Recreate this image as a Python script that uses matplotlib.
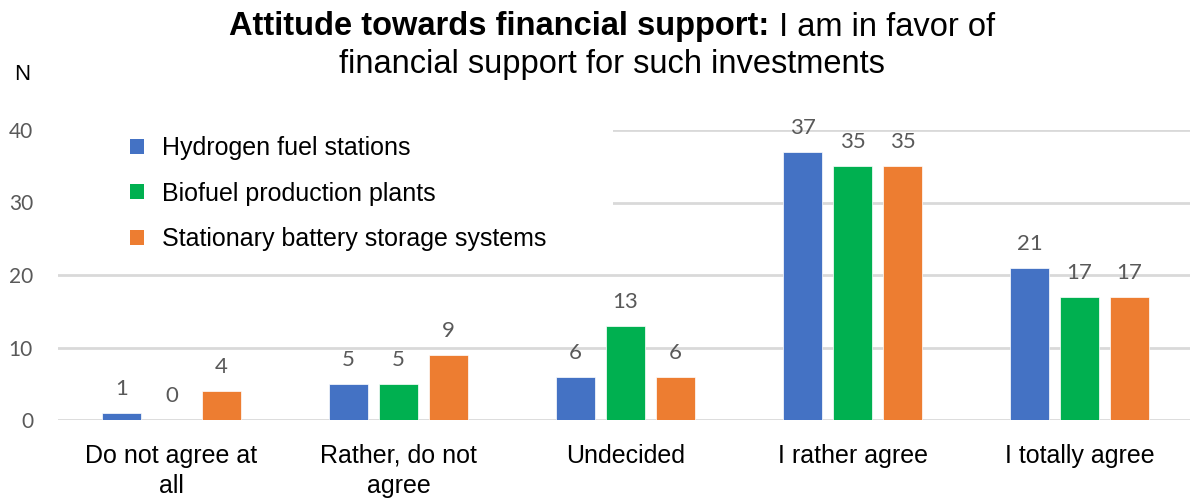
import matplotlib
matplotlib.use("Agg")
import matplotlib.pyplot as plt
import numpy as np
from matplotlib.patches import Patch, Rectangle

categories = ["Do not agree at\nall", "Rather, do not\nagree", "Undecided",
              "I rather agree", "I totally agree"]
series_names = ["Hydrogen fuel stations", "Biofuel production plants",
                "Stationary battery storage systems"]
hydrogen = [1, 5, 6, 37, 21]
biofuel = [0, 5, 13, 35, 17]
battery = [4, 9, 6, 35, 17]
colors = ["#4472C4", "#00B050", "#ED7D31"]

W, H = 1190, 499
fig = plt.figure(figsize=(W / 100, H / 100), dpi=100)
ax = fig.add_axes([58 / W, (H - 420) / H, (1193 - 58) / W, 290 / H])

x = np.arange(len(categories))
width = 0.172
pitch = 0.22
for i, (vals, col) in enumerate(zip([hydrogen, biofuel, battery], colors)):
    bars = ax.bar(x + (i - 1) * pitch, vals, width, color=col, zorder=3,
                  edgecolor="white", linewidth=0.5)
    for b, v in zip(bars, vals):
        ax.annotate(str(v), (b.get_x() + b.get_width() / 2, v),
                    xytext=(0, 10), textcoords="offset points",
                    ha="center", va="bottom", fontsize=16, color="#595959",
                    family="Lato")

ax.set_xlim(-0.5, 4.5)
ax.set_ylim(0, 40)
ax.set_yticks([0, 10, 20, 30, 40])
ax.yaxis.grid(True, color="#D9D9D9", linewidth=2, zorder=0)
ax.set_axisbelow(True)
for s in ax.spines.values():
    s.set_visible(False)
ax.tick_params(axis="both", length=0)
ax.tick_params(axis="y", labelsize=15, labelcolor="#595959", pad=18)
for lab in ax.get_yticklabels():
    lab.set_family("Lato")
ax.set_xticks(x)
ax.set_xticklabels(categories, fontsize=18, family="Liberation Sans",
                   linespacing=1.32)
ax.tick_params(axis="x", pad=17)

# white legend background hiding the upper gridlines on the left
ax.add_patch(Rectangle((0, 0.72), 0.489, 0.3, transform=ax.transAxes,
                       facecolor="white", edgecolor="none", zorder=2,
                       clip_on=False))

handles = [Patch(facecolor=c) for c in colors]
leg = ax.legend(handles, series_names, loc="upper left",
                bbox_to_anchor=(130 / W, 1 - 136 / H), bbox_transform=fig.transFigure,
                prop={"family": "Liberation Sans", "size": 18},
                frameon=False, borderaxespad=0, borderpad=0,
                handlelength=0.56, handleheight=0.56, handletextpad=0.72,
                labelspacing=0.86)
leg.set_zorder(5)

fig.text(22 / W, 1 - 75 / H, "N", fontsize=16, family="Liberation Sans",
         ha="center", va="center")

# title: bold part + regular part on first line, regular second line
cx = 612
y1 = 1 - 27 / H
y2 = 1 - 65 / H
tsize = 23.5
t1 = fig.text(0, y1, "Attitude towards financial support:", fontsize=tsize,
              fontweight="bold", family="Liberation Sans", va="center", ha="left")
t2 = fig.text(0, y1, " I am in favor of", fontsize=tsize,
              family="Liberation Sans", va="center", ha="left")
r = fig.canvas.get_renderer()
w1 = t1.get_window_extent(r).width
w2 = t2.get_window_extent(r).width
x0 = cx - (w1 + w2) / 2
t1.set_x(x0 / W)
t2.set_x((x0 + w1) / W)
fig.text(cx / W, y2, "financial support for such investments", fontsize=tsize,
         family="Liberation Sans", va="center", ha="center")

fig.savefig("out.png", dpi=100)
